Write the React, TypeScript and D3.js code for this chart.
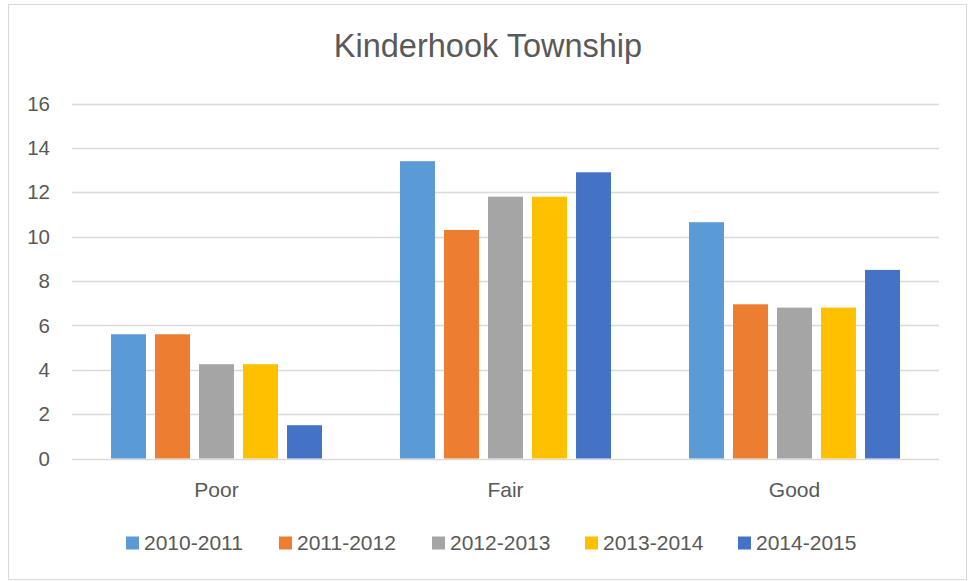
import { useEffect, useRef } from 'react'
import * as d3 from 'd3'

const categories = ['Poor', 'Fair', 'Good']
const seriesNames = ['2010-2011', '2011-2012', '2012-2013', '2013-2014', '2014-2015']
const seriesColors = ['#5B9BD5', '#ED7D31', '#A5A5A5', '#FFC000', '#4472C4']
// values per series, in category order (Poor, Fair, Good)
const s2010 = [5.6, 13.4, 10.65]
const s2011 = [5.6, 10.3, 6.95]
const s2012 = [4.25, 11.8, 6.8]
const s2013 = [4.25, 11.8, 6.8]
const s2014 = [1.5, 12.9, 8.5]
const seriesValues = [s2010, s2011, s2012, s2013, s2014]
const yTicks = [0, 2, 4, 6, 8, 10, 12, 14, 16]

const FONT = '"Liberation Sans", Arial, sans-serif'
const TEXT = '#595959'

export default function App() {
  const svgRef = useRef<SVGSVGElement>(null)

  useEffect(() => {
    if (!svgRef.current) return
    const svg = d3.select(svgRef.current)
    svg.selectAll('*').remove()

    const width = 968
    const height = 581
    const plot = { left: 72, right: 939, top: 103.5, bottom: 458.5 }

    // chart border
    svg.append('rect')
      .attr('x', 8.5).attr('y', 4.5)
      .attr('width', 958).attr('height', 575)
      .attr('fill', '#fff')
      .attr('stroke', '#D9D9D9')

    // title
    svg.append('text')
      .attr('x', 488).attr('y', 57)
      .attr('text-anchor', 'middle')
      .style('font-family', FONT)
      .style('font-size', '32.5px')
      .style('fill', TEXT)
      .text('Kinderhook Township')

    const x0 = d3.scaleBand<string>()
      .domain(categories)
      .range([plot.left, plot.right])
      .padding(0)

    const x1 = d3.scaleBand<string>()
      .domain(seriesNames)
      .range([0, x0.bandwidth()])
      .paddingInner(0.205)
      .paddingOuter(0.886)

    const y = d3.scaleLinear()
      .domain([0, 16])
      .range([plot.bottom, plot.top])

    // gridlines
    svg.append('g')
      .selectAll('line')
      .data(yTicks)
      .enter().append('line')
      .attr('x1', plot.left).attr('x2', plot.right)
      .attr('y1', d => Math.round(y(d)) + 0.5)
      .attr('y2', d => Math.round(y(d)) + 0.5)
      .attr('stroke', '#D9D9D9')
      .attr('stroke-width', 1.3)

    // y tick labels
    svg.append('g')
      .selectAll('text')
      .data(yTicks)
      .enter().append('text')
      .attr('x', 50)
      .attr('y', d => y(d))
      .attr('dy', '0.35em')
      .attr('text-anchor', 'end')
      .style('font-family', FONT)
      .style('font-size', '20.5px')
      .style('fill', TEXT)
      .text(d => d)

    // bars
    seriesNames.forEach((name, si) => {
      svg.append('g')
        .selectAll('rect')
        .data(seriesValues[si])
        .enter().append('rect')
        .attr('x', (_, ci) => (x0(categories[ci]) as number) + (x1(name) as number))
        .attr('y', d => y(d))
        .attr('width', x1.bandwidth())
        .attr('height', d => y(0) - y(d))
        .attr('fill', seriesColors[si])
    })

    // category labels
    svg.append('g')
      .selectAll('text')
      .data(categories)
      .enter().append('text')
      .attr('x', d => (x0(d) as number) + x0.bandwidth() / 2)
      .attr('y', 497)
      .attr('text-anchor', 'middle')
      .style('font-family', FONT)
      .style('font-size', '21px')
      .style('fill', TEXT)
      .text(d => d)

    // legend
    const legendX = d3.scalePoint<string>()
      .domain(seriesNames)
      .range([126, 738])

    const legend = svg.append('g')
      .selectAll('g')
      .data(seriesNames)
      .enter().append('g')
      .attr('transform', d => `translate(${legendX(d)},0)`)

    legend.append('rect')
      .attr('x', 0).attr('y', 536.5)
      .attr('width', 13).attr('height', 13)
      .attr('fill', (_, i) => seriesColors[i])

    legend.append('text')
      .attr('x', 18).attr('y', 549.5)
      .style('font-family', FONT)
      .style('font-size', '21px')
      .style('fill', TEXT)
      .text(d => d)

    svg.attr('width', width).attr('height', height)
  }, [])

  return (
    <svg
      ref={svgRef}
      width={968}
      height={581}
      style={{ position: 'absolute', left: 0, top: 0 }}
    ></svg>
  )
}
